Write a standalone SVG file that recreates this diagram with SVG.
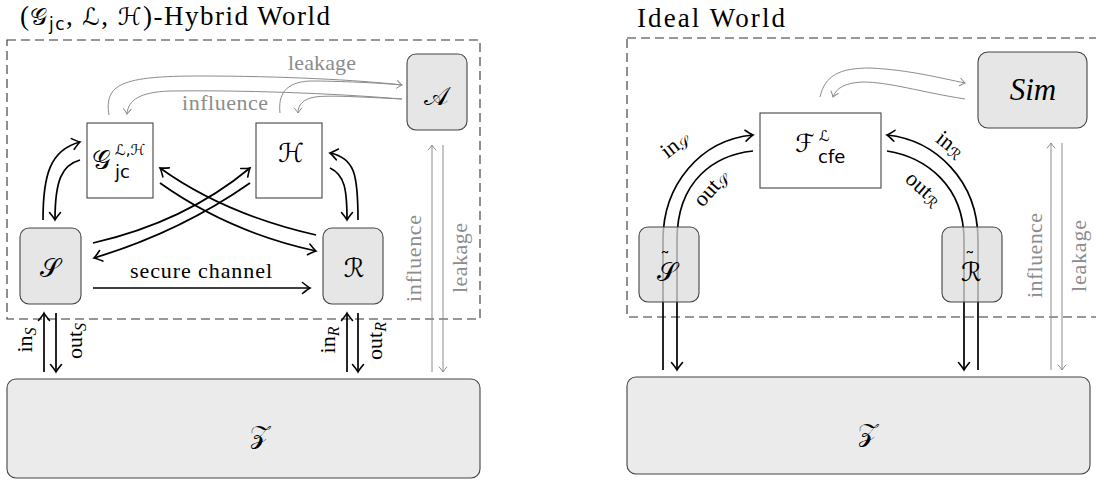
<svg xmlns="http://www.w3.org/2000/svg" width="1096" height="482" viewBox="0 0 1096 482">
<style>
.frame{fill:none;stroke:#333;stroke-width:1.1;stroke-dasharray:9 5}
.box{fill:#fff;stroke:#444;stroke-width:1.1}
.party{fill:#e6e6e6;stroke:#444;stroke-width:1.1}
.ghost{fill:#dcdcdc;fill-opacity:0.75;stroke:#444;stroke-width:1.1}
.env{fill:#ebebeb;stroke:#444;stroke-width:1.1}
.blk{fill:none;stroke:#000;stroke-width:1.7}
.gry{fill:none;stroke:#8c8c8c;stroke-width:1}
.t{font-family:"Liberation Serif","DejaVu Serif",serif;font-size:22px;fill:#000}
.tg{font-family:"Liberation Serif","DejaVu Serif",serif;font-size:22px;fill:#8c8c8c}
.ttl{font-family:"Liberation Serif","DejaVu Serif",serif;font-size:27px;fill:#000}
.cal{font-family:"DejaVu Sans","DejaVu Serif",serif;fill:#000}
.sans{font-family:"DejaVu Sans","Liberation Sans",sans-serif;fill:#000}
</style>
<defs>
<marker id="ab" viewBox="-9 -7 11 14" refX="0" refY="0" markerWidth="11" markerHeight="14" markerUnits="userSpaceOnUse" orient="auto">
<path d="M-7.5,-5.5 Q-2,-1 0,0 Q-2,1 -7.5,5.5" fill="none" stroke="#000" stroke-width="1.6" stroke-linecap="round"/>
</marker>
<marker id="ag" viewBox="-7 -5 8 10" refX="0" refY="0" markerWidth="8" markerHeight="10" markerUnits="userSpaceOnUse" orient="auto">
<path d="M-5,-3.8 Q-1.5,-0.8 0,0 Q-1.5,0.8 -5,3.8" fill="none" stroke="#8c8c8c" stroke-width="1" stroke-linecap="round"/>
</marker>
</defs>

<!-- frames and titles -->
<rect class="frame" x="7" y="40" width="473" height="279"/>
<rect class="frame" x="627" y="38" width="475" height="279"/>
<text class="ttl" x="20" y="25" textLength="310">(<tspan class="cal" font-size="24">𝒢</tspan><tspan class="sans" font-size="17" dy="5">jc</tspan><tspan dy="-5">, </tspan><tspan class="cal" font-size="24">ℒ</tspan>, <tspan class="cal" font-size="24">ℋ</tspan>)-Hybrid World</text>
<text class="ttl" x="637" y="27" textLength="148">Ideal World</text>

<g id="connectors">
<!-- left: parties to functionalities -->
<path class="blk" marker-end="url(#ab)" d="M43,220 C43,175 50,150 80,142"/>
<path class="blk" marker-end="url(#ab)" d="M80,160 C62,165 55,180 55,220"/>
<path class="blk" marker-end="url(#ab)" d="M358,220 C358,175 355,158 330,153"/>
<path class="blk" marker-end="url(#ab)" d="M330,168 C345,175 347,190 347,220"/>
<path class="blk" marker-end="url(#ab)" d="M93,243 Q185,222 250,168"/>
<path class="blk" marker-end="url(#ab)" d="M250,183 Q180,232 94,258"/>
<path class="blk" marker-end="url(#ab)" d="M316,235 Q224,214 160,168"/>
<path class="blk" marker-end="url(#ab)" d="M160,183 Q229,232 316,251"/>
<path class="blk" marker-end="url(#ab)" d="M93,288 L310,288"/>
<!-- left: environment -->
<path class="blk" marker-end="url(#ab)" d="M44,372 L44,313"/>
<path class="blk" marker-end="url(#ab)" d="M56,313 L56,372"/>
<path class="blk" marker-end="url(#ab)" d="M347,372 L347,313"/>
<path class="blk" marker-end="url(#ab)" d="M358,313 L358,372"/>
<!-- left: adversary -->
<path class="gry" marker-end="url(#ag)" d="M432,372 L432,145"/>
<path class="gry" marker-end="url(#ag)" d="M443,145 L443,372"/>
<path class="gry" marker-end="url(#ag)" d="M109,115 C104,84 122,76 200,76 C280,76 360,80 402,85"/>
<path class="gry" marker-end="url(#ag)" d="M402,99 C330,93 240,90 170,91 C140,92 128,100 127,114"/>
<path class="gry" d="M280,113 C278,95 285,82 310,81 C340,81 380,83 402,85"/>
<path class="gry" marker-end="url(#ag)" d="M402,99 C360,97 330,95 315,97 C303,99 298,105 298,113"/>
<!-- right -->
<path class="gry" marker-end="url(#ag)" d="M820,97 C825,75 840,68 870,68 C910,70 940,78 965,83"/>
<path class="gry" marker-end="url(#ag)" d="M965,99 C920,92 890,82 862,82 C845,83 836,88 833,97"/>
<path class="gry" marker-end="url(#ag)" d="M1051,370 L1051,143"/>
<path class="gry" marker-end="url(#ag)" d="M1062,143 L1062,370"/>
<path class="blk" marker-end="url(#ab)" d="M663,370 L663,240 C663,185 700,140 753,135"/>
<path class="blk" marker-end="url(#ab)" d="M753,151 C715,155 677,180 677,240 L677,370"/>
<path class="blk" marker-end="url(#ab)" d="M978,370 L978,240 C978,180 935,140 887,135"/>
<path class="blk" marker-end="url(#ab)" d="M887,151 C925,157 964,185 964,240 L964,370"/>
<!-- connector labels -->
<text class="tg" x="288" y="70" textLength="68">leakage</text>
<text class="tg" x="182" y="110" textLength="86">influence</text>
<text class="t" x="130" y="278" textLength="142">secure channel</text>
<text class="tg" transform="translate(421,302) rotate(-90)" textLength="87">influence</text>
<text class="tg" transform="translate(467,293) rotate(-90)" textLength="70">leakage</text>
<text class="tg" transform="translate(1042,298) rotate(-90)" textLength="85">influence</text>
<text class="tg" transform="translate(1086,292) rotate(-90)" textLength="72">leakage</text>
<text class="t" transform="translate(32,340) rotate(-90)" text-anchor="middle">in<tspan font-style="italic" font-size="16" dy="4">S</tspan></text>
<text class="t" transform="translate(82,341) rotate(-90)" text-anchor="middle">out<tspan font-style="italic" font-size="16" dy="4">S</tspan></text>
<text class="t" transform="translate(335,340) rotate(-90)" text-anchor="middle">in<tspan font-style="italic" font-size="16" dy="4">R</tspan></text>
<text class="t" transform="translate(382,341) rotate(-90)" text-anchor="middle">out<tspan font-style="italic" font-size="16" dy="4">R</tspan></text>
<text class="t" transform="translate(679,150) rotate(-38)" text-anchor="middle">in<tspan class="cal" font-size="15" dy="3">𝒮</tspan></text>
<text class="t" transform="translate(716,193) rotate(-48)" text-anchor="middle">out<tspan class="cal" font-size="15" dy="3">𝒮</tspan></text>
<text class="t" transform="translate(946,150) rotate(38)" text-anchor="middle">in<tspan class="cal" font-size="15" dy="3">ℛ</tspan></text>
<text class="t" transform="translate(919,194) rotate(42)" text-anchor="middle">out<tspan class="cal" font-size="15" dy="3">ℛ</tspan></text>
</g>

<g id="A"><rect class="party" x="407" y="54" width="60" height="76" rx="9"/><text class="cal" x="436" y="105" font-size="26" text-anchor="middle">𝒜</text></g>
<g id="G"><rect class="box" x="87" y="123" width="66" height="75"/><text class="cal" x="92" y="169" font-size="26">𝒢</text><text class="cal" x="115" y="155" font-size="15">ℒ,ℋ</text><text class="sans" x="115" y="178" font-size="18">jc</text></g>
<g id="H"><rect class="box" x="256" y="123" width="66" height="75"/><text class="cal" x="291" y="162" font-size="26" text-anchor="middle">ℋ</text></g>
<g id="S"><rect class="party" x="20" y="228" width="61" height="76" rx="9"/><text class="cal" x="50" y="277" font-size="26" text-anchor="middle">𝒮</text></g>
<g id="R"><rect class="party" x="323" y="228" width="60" height="76" rx="9"/><text class="cal" x="354" y="277" font-size="26" text-anchor="middle">ℛ</text></g>
<g id="Z1"><rect class="env" x="7" y="379" width="473" height="99" rx="9"/><text class="cal" x="260" y="443" font-size="26" text-anchor="middle">𝒵</text></g>

<g id="Sim"><rect class="party" x="978" y="52" width="109" height="76" rx="10"/><text x="1033" y="100" text-anchor="middle" style="font-family:'Liberation Serif','DejaVu Serif',serif;font-style:italic;font-size:31px">Sim</text></g>
<g id="F"><rect class="box" x="760" y="113" width="121" height="75"/><text class="cal" x="795" y="152" font-size="25">ℱ</text><text class="cal" x="819" y="141" font-size="15">ℒ</text><text class="sans" x="818" y="163" font-size="18">cfe</text></g>
<g id="St"><rect class="ghost" x="639" y="227" width="60" height="75" rx="9"/><text class="cal" x="657" y="281" font-size="26">𝒮<tspan font-size="20" dx="-17" dy="-15">˜</tspan></text></g>
<g id="Rt"><rect class="ghost" x="942" y="227" width="60" height="75" rx="9"/><text class="cal" x="961" y="281" font-size="26">ℛ<tspan font-size="20" dx="-17" dy="-15">˜</tspan></text></g>
<g id="Z2"><rect class="env" x="627" y="377" width="463" height="97" rx="9"/><text class="cal" x="868" y="441" font-size="26" text-anchor="middle">𝒵</text></g>
</svg>
